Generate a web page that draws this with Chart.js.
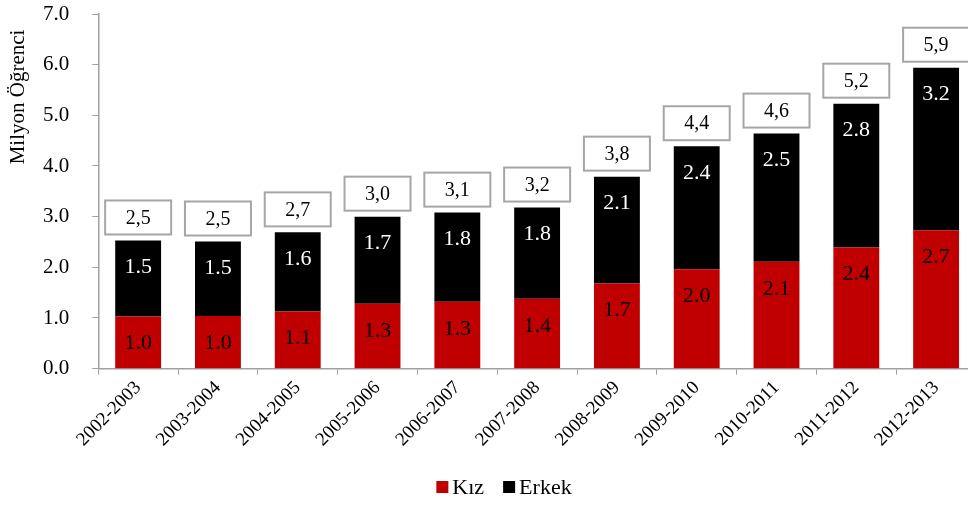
<!DOCTYPE html>
<html>
<head>
<meta charset="utf-8">
<script src="https://cdn.jsdelivr.net/npm/chart.js@4.4.1/dist/chart.umd.min.js"></script>
<style>
  html, body { margin: 0; padding: 0; background: #ffffff; overflow: hidden; }
  #wrap { position: relative; width: 980px; height: 505px; }
</style>
</head>
<body>
<div id="wrap"><canvas id="c"></canvas></div>
<script>
const categories = ['2002-2003','2003-2004','2004-2005','2005-2006','2006-2007','2007-2008','2008-2009','2009-2010','2010-2011','2011-2012','2012-2013'];
const kiz   = [1.03, 1.04, 1.13, 1.28, 1.32, 1.38, 1.68, 1.96, 2.11, 2.39, 2.73];
const erkek = [1.50, 1.47, 1.56, 1.72, 1.76, 1.80, 2.11, 2.43, 2.53, 2.84, 3.21];
const yTicks = [0, 1, 2, 3, 4, 5, 6, 7];
const yTitle = 'Milyon Öğrenci';

const FONT = "'Liberation Serif', 'Times New Roman', serif";
const AXIS = '#a0a0a0';

const segmentLabels = {
  id: 'segmentLabels',
  afterDatasetsDraw(chart) {
    const ctx = chart.ctx;
    ctx.save();
    ctx.font = '22px ' + FONT;
    ctx.textAlign = 'center';
    ctx.textBaseline = 'middle';
    chart.data.datasets.forEach((ds, di) => {
      const meta = chart.getDatasetMeta(di);
      meta.data.forEach((bar, i) => {
        ctx.fillStyle = di === 0 ? '#000000' : '#ffffff';
        ctx.fillText(ds.data[i].toFixed(1), bar.x, bar.y + 27);
      });
    });
    ctx.restore();
  }
};

const totalBoxes = {
  id: 'totalBoxes',
  afterDatasetsDraw(chart) {
    const ctx = chart.ctx;
    const ys = chart.scales.y;
    const meta = chart.getDatasetMeta(1);
    ctx.save();
    ctx.font = '20px ' + FONT;
    ctx.textAlign = 'center';
    ctx.textBaseline = 'middle';
    categories.forEach((c, i) => {
      const total = kiz[i] + erkek[i];
      const x = meta.data[i].x;
      const yTop = ys.getPixelForValue(total);
      const w = 66, h = 34;
      const bx = x - w / 2, by = yTop - 6 - h;
      ctx.fillStyle = '#ffffff';
      ctx.fillRect(bx, by, w, h);
      ctx.strokeStyle = '#a6a6a6';
      ctx.lineWidth = 2;
      ctx.strokeRect(bx, by, w, h);
      ctx.fillStyle = '#000000';
      ctx.fillText(total.toFixed(1).replace('.', ','), x, by + h / 2 + 1);
    });
    ctx.restore();
  }
};

// Y-axis title placed near the top, as in the Excel original
const axisTitle = {
  id: 'axisTitle',
  afterDraw(chart) {
    const ctx = chart.ctx;
    ctx.save();
    ctx.font = '21px ' + FONT;
    ctx.fillStyle = '#000000';
    ctx.textAlign = 'center';
    ctx.textBaseline = 'middle';
    ctx.translate(18, 97);
    ctx.rotate(-Math.PI / 2);
    ctx.fillText(yTitle, 0, 0);
    ctx.restore();
  }
};

// Legend drawn from the datasets (Excel-style spacing)
const bottomLegend = {
  id: 'bottomLegend',
  afterDraw(chart) {
    const ctx = chart.ctx;
    const ds = chart.data.datasets;
    ctx.save();
    ctx.font = '22px ' + FONT;
    ctx.textBaseline = 'middle';
    ctx.textAlign = 'left';
    const box = 12, gap = 4, spacing = 19;
    const widths = ds.map(d => box + gap + ctx.measureText(d.label).width);
    const total = widths.reduce((a, b) => a + b, 0) + spacing * (ds.length - 1);
    let x = chart.width / 2 + 14 - total / 2;
    const yc = 487;
    ds.forEach((d, i) => {
      ctx.fillStyle = d.backgroundColor;
      ctx.fillRect(x, yc - box / 2, box, box);
      ctx.fillStyle = '#000000';
      ctx.fillText(d.label, x + box + gap, yc + 1);
      x += widths[i] + spacing;
    });
    ctx.restore();
  }
};

new Chart(document.getElementById('c'), {
  type: 'bar',
  data: {
    labels: categories,
    datasets: [
      { label: 'Kız', data: kiz, backgroundColor: '#c00000', borderWidth: 0, barPercentage: 0.575, categoryPercentage: 1 },
      { label: 'Erkek', data: erkek, backgroundColor: '#000000', borderWidth: 0, barPercentage: 0.575, categoryPercentage: 1 }
    ]
  },
  options: {
    responsive: true,
    maintainAspectRatio: false,
    animation: false,
    layout: { padding: { top: 0, right: 4, left: 2, bottom: 0 } },
    plugins: {
      legend: { display: false },
      tooltip: { enabled: false }
    },
    scales: {
      x: {
        stacked: true,
        afterFit(axis) { axis.height += 52; },
        grid: { offset: true, drawOnChartArea: false, tickLength: 6, color: AXIS },
        border: { color: AXIS, width: 1.5 },
        ticks: { color: '#000000', font: { family: FONT, size: 19 }, minRotation: 45, maxRotation: 45, padding: 2 }
      },
      y: {
        stacked: true,
        min: 0, max: 7,
        afterBuildTicks(axis) { axis.ticks = yTicks.map(v => ({ value: v })); },
        afterFit(axis) { axis.width += 18; axis.paddingTop = 14; },
        grid: { drawOnChartArea: false, tickLength: 6, color: AXIS },
        border: { color: AXIS, width: 1.5 },
        ticks: { color: '#000000', font: { family: FONT, size: 21 }, padding: 23, callback: v => Number(v).toFixed(1) }
      }
    }
  },
  plugins: [segmentLabels, totalBoxes, axisTitle, bottomLegend]
});
</script>
</body>
</html>
